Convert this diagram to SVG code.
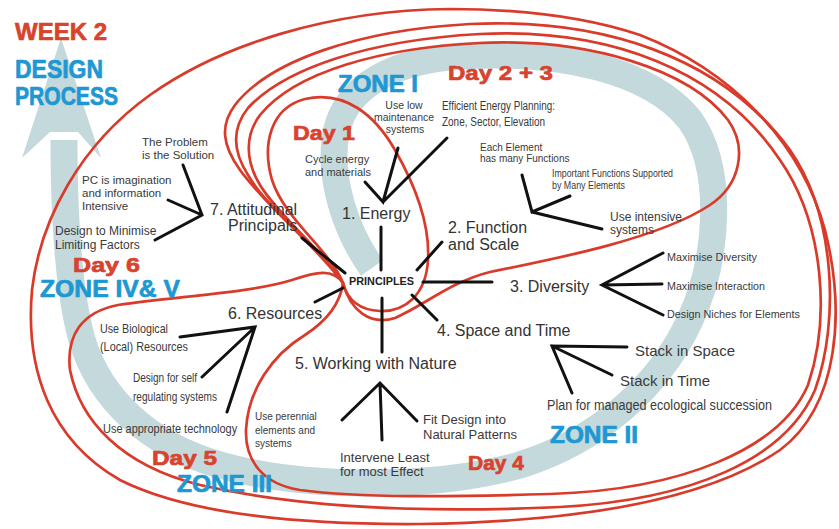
<svg xmlns="http://www.w3.org/2000/svg" width="839" height="529" viewBox="0 0 839 529">
<style>
text{font-family:"Liberation Sans",Arial,sans-serif}
.h{font-weight:bold;stroke-width:0.7;stroke-linejoin:round}
.red{fill:#d8432f;stroke:#d8432f}
.blue{fill:#1e98d3;stroke:#1e98d3}
.p{font-size:16px;fill:#333}
.s{fill:#3a3a3a}
.loop{fill:none;stroke:#d93b2b;stroke-width:2.7}
.ln{fill:none;stroke:#111;stroke-width:3;stroke-linecap:round;stroke-linejoin:miter}
.c{text-anchor:middle}
</style>
<rect width="839" height="529" fill="#fff"/>
<g id="spiral">
<path d="M372,268 C345,230 330,180 335,140 C340,95 380,62 460,56 C560,50 650,70 690,120 C725,170 718,260 690,320 C660,385 600,440 520,465 C430,490 300,488 220,465 C150,445 100,400 82,340 C68,290 64,220 64,140" fill="none" stroke="#c4d9db" stroke-width="27"/>
<polygon points="61,38 22,158 50,132 78,132 101,158" fill="#c4d9db"/>
</g>
<g id="loops">
<path class="loop" d="M450,9 C330,10 220,45 150,95 C80,145 40,220 32,290 C25,370 50,440 120,480 C190,515 300,525 420,524 C560,522 700,505 780,450 C840,405 845,310 825,230 C800,140 730,70 640,35 C580,15 510,9 450,9 Z"/>
<path class="loop" d="M343,283 C320,250 265,205 240,170 C222,145 220,125 235,105 C270,60 360,30 470,24 C600,18 720,55 790,150 C835,215 840,320 815,390 C785,460 690,500 560,507 C430,513 300,508 200,485 C120,465 80,420 70,370 C66,335 82,312 118,305 C180,296 250,293 292,280 C316,272 333,268 343,283 Z"/>
<path class="loop" d="M343,283 C318,245 268,210 248,175 C232,150 232,128 248,108 C285,68 370,40 480,34 C610,28 720,70 780,160 C825,225 830,320 808,385 C780,450 680,490 550,494 C450,497 360,498 300,490 C262,484 245,460 246,430 C248,390 272,355 305,335 C325,322 340,305 343,283 Z"/>
<path class="loop" d="M343,283 C322,250 278,215 260,185 C245,160 245,135 260,115 C295,72 380,48 480,43 C590,38 690,70 728,120 C748,148 740,185 710,205 C660,238 560,258 490,272 C450,282 425,305 395,318 C370,326 350,310 343,283 Z"/>
<path class="loop" d="M343,283 C330,250 285,220 272,180 C262,145 270,108 305,99 C345,90 375,115 395,150 C415,185 430,225 428,260 C426,295 405,312 380,311 C358,310 347,298 343,283 Z"/>
</g>
<g id="connectors">
<path class="ln" d="M381,227 L381,270 M382,298 L382,352 M423,282 L492,282 M417,270 L442,242 M412,295 L437,320 M302,238 L345,273 M315,302 L343,288"/>
<path class="ln" d="M365,182 L383,202 L398,148 M383,202 L447,138"/>
<path class="ln" d="M522,175 L532,212 L570,196 M532,212 L602,229"/>
<path class="ln" d="M663,253 L602,285 L663,315 M602,285 L662,284"/>
<path class="ln" d="M627,347 L552,346 L572,393 M552,346 L612,375"/>
<path class="ln" d="M342,420 L380,383 L417,421 M380,383 L382,440"/>
<path class="ln" d="M180,337 L255,327 L227,412 M255,327 L202,377"/>
<path class="ln" d="M183,165 L202,215 L155,240 M202,215 L168,200"/>
</g>
<g id="title">
<text class="h red" x="15" y="40" font-size="24" textLength="92" lengthAdjust="spacingAndGlyphs">WEEK 2</text>
<text class="h blue" x="15" y="78" font-size="25" textLength="88" lengthAdjust="spacingAndGlyphs">DESIGN</text>
<text class="h blue" x="15" y="105" font-size="25" textLength="103" lengthAdjust="spacingAndGlyphs">PROCESS</text>
</g>
<g id="labels">
<text class="h red" x="448" y="80" font-size="21" textLength="105" lengthAdjust="spacingAndGlyphs">Day 2 + 3</text>
<text class="h red" x="293" y="140" font-size="21" textLength="62" lengthAdjust="spacingAndGlyphs">Day 1</text>
<text class="h red" x="73" y="272" font-size="21" textLength="67" lengthAdjust="spacingAndGlyphs">Day 6</text>
<text class="h red" x="152" y="465" font-size="21" textLength="65" lengthAdjust="spacingAndGlyphs">Day 5</text>
<text class="h red" x="468" y="470" font-size="21" textLength="56" lengthAdjust="spacingAndGlyphs">Day 4</text>
<text class="h blue" x="338" y="92" font-size="23" textLength="80" lengthAdjust="spacingAndGlyphs">ZONE I</text>
<text class="h blue" x="40" y="297" font-size="23" textLength="140" lengthAdjust="spacingAndGlyphs">ZONE IV&amp; V</text>
<text class="h blue" x="177" y="492" font-size="23" textLength="95" lengthAdjust="spacingAndGlyphs">ZONE III</text>
<text class="h blue" x="550" y="443" font-size="23" textLength="88" lengthAdjust="spacingAndGlyphs">ZONE II</text>
</g>
<g id="principles">
<text class="h" x="349" y="285" font-size="10.5" fill="#222" textLength="65" lengthAdjust="spacingAndGlyphs">PRINCIPLES</text>
</g>
<g id="energy">
<text class="p" x="342" y="219">1. Energy</text>
<text class="s c" x="404" y="109" font-size="10.5">Use low</text>
<text class="s c" x="404" y="121" font-size="10.5">maintenance</text>
<text class="s c" x="405" y="133" font-size="10.5">systems</text>
<text class="s" x="442" y="110" font-size="12" textLength="113" lengthAdjust="spacingAndGlyphs">Efficient Energy Planning:</text>
<text class="s" x="442" y="126" font-size="12" textLength="103" lengthAdjust="spacingAndGlyphs">Zone, Sector, Elevation</text>
<text class="s" x="305" y="163" font-size="11">Cycle energy</text>
<text class="s" x="305" y="176" font-size="11">and materials</text>
</g>
<g id="function">
<text class="p" x="448" y="233">2. Function</text>
<text class="p" x="448" y="250">and Scale</text>
<text class="s" x="480" y="151" font-size="10">Each Element</text>
<text class="s" x="480" y="162" font-size="10">has many Functions</text>
<text class="s" x="552" y="177" font-size="10" textLength="121" lengthAdjust="spacingAndGlyphs">Important Functions Supported</text>
<text class="s" x="552" y="189" font-size="10" textLength="73" lengthAdjust="spacingAndGlyphs">by Many Elements</text>
<text class="s" x="610" y="221" font-size="12">Use intensive</text>
<text class="s" x="610" y="234" font-size="12">systems</text>
</g>
<g id="diversity">
<text class="p" x="510" y="292">3. Diversity</text>
<text class="s" x="667" y="261" font-size="11" textLength="90" lengthAdjust="spacingAndGlyphs">Maximise Diversity</text>
<text class="s" x="667" y="290" font-size="11" textLength="98" lengthAdjust="spacingAndGlyphs">Maximise Interaction</text>
<text class="s" x="667" y="318" font-size="11" textLength="133" lengthAdjust="spacingAndGlyphs">Design Niches for Elements</text>
</g>
<g id="space">
<text class="p" x="437" y="336">4. Space and Time</text>
<text class="s" x="635" y="356" font-size="15">Stack in Space</text>
<text class="s" x="620" y="386" font-size="15">Stack in Time</text>
<text class="s" x="547" y="410" font-size="14" textLength="225" lengthAdjust="spacingAndGlyphs">Plan for managed ecological succession</text>
</g>
<g id="nature">
<text class="p" x="295" y="369">5. Working with Nature</text>
<text class="s" x="255" y="420" font-size="10">Use perennial</text>
<text class="s" x="255" y="433.5" font-size="10">elements and</text>
<text class="s" x="255" y="447" font-size="10">systems</text>
<text class="s" x="423" y="424" font-size="13">Fit Design into</text>
<text class="s" x="423" y="439" font-size="13">Natural Patterns</text>
<text class="s" x="340" y="462" font-size="13">Intervene Least</text>
<text class="s" x="340" y="476" font-size="13">for most Effect</text>
</g>
<g id="resources">
<text class="p" x="228" y="319">6. Resources</text>
<text class="s" x="100" y="333" font-size="13" textLength="68" lengthAdjust="spacingAndGlyphs">Use Biological</text>
<text class="s" x="100" y="351" font-size="13" textLength="88" lengthAdjust="spacingAndGlyphs">(Local) Resources</text>
<text class="s" x="133" y="382" font-size="13" textLength="64" lengthAdjust="spacingAndGlyphs">Design for self</text>
<text class="s" x="133" y="401" font-size="13" textLength="84" lengthAdjust="spacingAndGlyphs">regulating systems</text>
<text class="s" font-size="13" transform="translate(103,433) scale(0.845,1)">Use appropriate technology</text>
</g>
<g id="attitudinal">
<text class="p" x="210" y="215">7. Attitudinal</text>
<text class="p" x="228" y="231">Principals</text>
<text class="s" x="142" y="146" font-size="11.5">The Problem</text>
<text class="s" x="142" y="159" font-size="11.5">is the Solution</text>
<text class="s" x="82" y="184" font-size="11.5">PC is imagination</text>
<text class="s" x="82" y="197" font-size="11.5">and information</text>
<text class="s" x="82" y="210" font-size="11.5">Intensive</text>
<text class="s" x="55" y="235" font-size="12">Design to Minimise</text>
<text class="s" x="55" y="249" font-size="12">Limiting Factors</text>
</g>
</svg>
